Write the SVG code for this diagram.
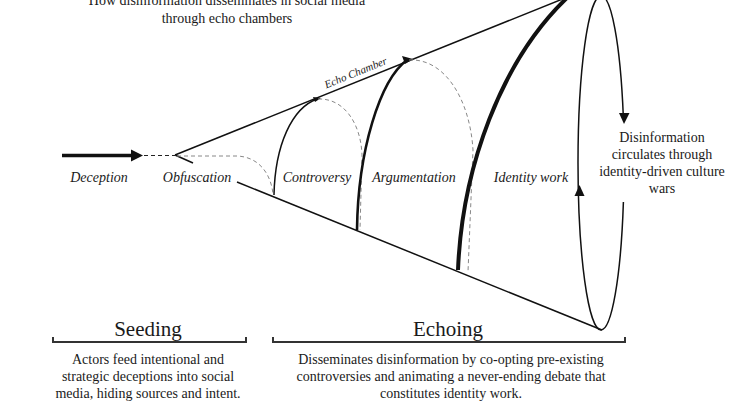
<svg xmlns="http://www.w3.org/2000/svg" width="750" height="420" viewBox="0 0 750 420">
<style>
  text { font-family: "Liberation Serif", "Times New Roman", serif; fill: #1a1a1a; }
  .lbl { font-size: 14px; font-style: italic; text-anchor: middle; }
  .body { font-size: 14px; text-anchor: middle; }
  .head { font-size: 21px; text-anchor: middle; }
  .ln { fill: none; stroke: #111; stroke-width: 1.5; }
  .dash { fill: none; stroke: #888; stroke-width: 1; stroke-dasharray: 4 3; }
  .dashdk { fill: none; stroke: #222; stroke-width: 1.2; stroke-dasharray: 4 3; }
  .brk { fill: none; stroke: #333; stroke-width: 2; }
</style>
<rect width="750" height="420" fill="#fff"/>

<g id="title">
  <text class="body" x="227" y="5">How disinformation disseminates  in social media</text>
  <text class="body" x="227" y="23">through echo chambers</text>
</g>

<g id="cone">
  <path class="ln" d="M175,155 L580,-8"/>
  <path class="ln" d="M175,155 L193,163"/>
  <path class="ln" d="M237,182 L602,330"/>
</g>

<g id="connectors">
  <!-- deception arrow -->
  <path d="M62,155.5 L133,155.5" stroke="#111" stroke-width="3.5" fill="none"/>
  <polygon points="143,155.5 131,149.5 131,161.5" fill="#111"/>
  <path class="dashdk" d="M144,155.5 L177,155.5"/>
  <!-- obfuscation dashed -->
  <path class="dash" d="M177,156 L237,156 C260,157 271,175 273,194"/>
  <!-- controversy -->
  <path d="M274,195 C275,145 292,108 317,99" stroke="#111" stroke-width="1.5" fill="none"/>
  <polygon points="321,98 313,97 315,102" fill="#111"/>
  <path class="dash" d="M318,99 C345,98 361,125 362,155 L360,230"/>
  <!-- argumentation -->
  <path d="M357,230 C358,150 380,80 407,60" stroke="#111" stroke-width="2.6" fill="none"/>
  <polygon points="413,59 402,56 405,64" fill="#111"/>
  <path class="dash" d="M409,60 C445,58 470,100 473,150 L468,272"/>
  <!-- identity work -->
  <path d="M458,270 C462,170 500,60 570,-5" stroke="#111" stroke-width="4" fill="none"/>
  <!-- circulation ellipse -->
  <path class="ln" d="M601,-4 A23,167 0 0 0 601,330"/>
  <path class="ln" d="M601,-4 A23,167 0 0 1 623.3,116"/>
  <path class="ln" d="M623.4,202 A23,167 0 0 1 601,330"/>
  <polygon points="624,124 619,113 629.5,113" fill="#111"/>
  <polygon points="579.5,185 574.5,196 584.5,196" fill="#111"/>
</g>

<g id="deception"><text class="lbl" x="99" y="182">Deception</text></g>
<g id="obfuscation"><text class="lbl" x="197" y="182">Obfuscation</text></g>
<g id="controversy"><text class="lbl" x="317" y="182">Controversy</text></g>
<g id="argumentation"><text class="lbl" x="414" y="182">Argumentation</text></g>
<g id="identity-work"><text class="lbl" x="531" y="182">Identity work</text></g>
<g id="echo-chamber"><text class="lbl" style="font-size:11px" transform="translate(357,76) rotate(-22)">Echo Chamber</text></g>

<g id="circulation">
  <text class="body" x="662" y="142">Disinformation</text>
  <text class="body" x="662" y="159">circulates through</text>
  <text class="body" x="662" y="176">identity-driven  culture</text>
  <text class="body" x="662" y="193">wars</text>
</g>

<g id="seeding">
  <text class="head" x="148" y="336">Seeding</text>
  <path class="brk" d="M53,337 L53,342 L246,342 L246,337"/>
  <text class="body" x="148" y="364">Actors feed intentional and</text>
  <text class="body" x="148" y="381">strategic deceptions into social</text>
  <text class="body" x="148" y="398">media, hiding sources and intent.</text>
</g>

<g id="echoing">
  <text class="head" x="448" y="336">Echoing</text>
  <path class="brk" d="M273,337 L273,342 L625,342 L625,337"/>
  <text class="body" x="451" y="364">Disseminates disinformation by co-opting pre-existing</text>
  <text class="body" x="451" y="381">controversies and animating a never-ending debate that</text>
  <text class="body" x="451" y="398">constitutes identity work.</text>
</g>
</svg>
